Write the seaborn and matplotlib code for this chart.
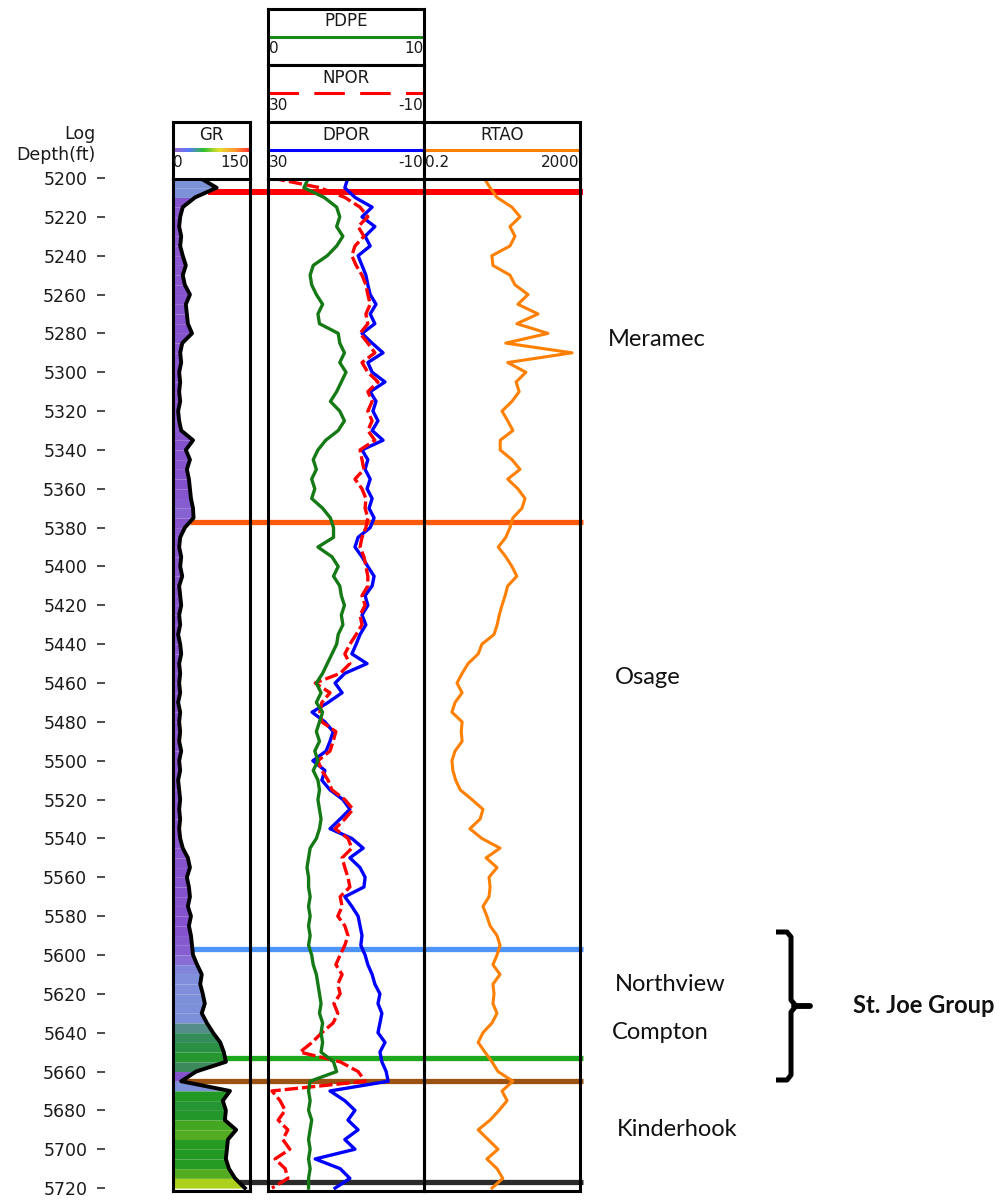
import numpy as np
import matplotlib
matplotlib.use("Agg")
import matplotlib.pyplot as plt
import seaborn as sns
from matplotlib import transforms
from matplotlib.colors import LinearSegmentedColormap, Normalize
from matplotlib.lines import Line2D

# ---- log samples, every 5 ft from 5200 to 5720 ft ----
depth = np.arange(5200, 5721, 5)

# gamma ray, API (0-150)
gr = [53, 85, 43, 19, 14, 12, 16, 14, 19, 25,
      19, 23, 33, 25, 27, 29, 37, 18, 14, 16,
      12, 14, 12, 14, 10, 12, 16, 39, 25, 33,
      27, 31, 33, 35, 39, 40, 23, 14, 12, 16,
      14, 18, 12, 14, 16, 12, 14, 10, 14, 16,
      12, 14, 12, 14, 10, 14, 12, 14, 12, 16,
      12, 14, 10, 12, 14, 12, 14, 12, 14, 19,
      29, 33, 27, 31, 33, 29, 35, 31, 35, 37,
      39, 47, 56, 53, 58, 62, 56, 66, 78, 92,
      99, 103, 45, 16, 111, 97, 103, 101, 123, 107,
      105, 103, 109, 121, 140]

# photoelectric factor, b/e (0-10)
pdpe = [2.6, 2.3, 3.6, 4.4, 4.6, 4.4, 4.8, 4.4, 3.8, 2.9,
        2.7, 2.8, 3.1, 3.5, 3.2, 3.3, 4.5, 4.6, 4.9, 4.6,
        5.0, 4.7, 4.4, 4.0, 4.6, 4.9, 4.5, 3.7, 3.2, 2.9,
        3.1, 2.8, 3.0, 2.8, 3.5, 4.0, 4.2, 4.2, 3.2, 4.1,
        4.5, 4.2, 4.6, 4.7, 4.9, 4.7, 4.8, 4.5, 4.4, 4.1,
        3.8, 3.5, 3.1, 3.4, 3.1, 3.5, 3.3, 3.1, 3.3, 3.0,
        3.2, 2.9, 3.2, 3.3, 3.2, 3.3, 3.4, 3.3, 3.1, 2.7,
        2.6, 2.5, 2.6, 2.6, 2.7, 2.6, 2.7, 2.6, 2.7, 2.6,
        2.8, 2.9, 3.1, 3.2, 3.3, 3.4, 3.3, 3.5, 3.4, 3.5,
        3.4, 4.2, 4.4, 2.7, 2.6, 2.7, 2.6, 2.8, 2.7, 2.6,
        2.7, 2.6, 2.7, 2.6, 2.6]

# neutron porosity, % (30 to -10)
npor = [29.0, 16.7, 10.3, 6.4, 4.4, 6.9, 5.4, 7.7, 8.5, 7.4,
        5.9, 4.9, 4.4, 3.8, 4.9, 4.4, 6.4, 4.4, 2.6, 5.9,
        4.4, 1.8, 4.4, 3.3, 4.4, 3.3, 4.4, 2.6, 6.4, 5.9,
        5.4, 7.7, 5.9, 4.9, 5.1, 4.4, 4.9, 5.9, 6.4, 5.4,
        4.9, 4.4, 4.4, 5.9, 5.1, 6.4, 5.9, 7.4, 9.0, 10.3,
        9.0, 11.5, 17.9, 14.1, 16.2, 16.7, 16.2, 12.6, 13.3, 14.1,
        17.2, 16.2, 14.6, 13.6, 10.3, 8.2, 10.3, 12.8, 9.5, 8.5,
        11.0, 10.3, 9.5, 9.0, 11.5, 11.0, 12.1, 10.3, 9.5, 10.3,
        11.5, 12.6, 11.0, 12.1, 11.5, 13.1, 12.1, 13.3, 16.2, 18.7,
        21.8, 11.5, 6.9, 5.1, 29.0, 26.9, 25.6, 27.4, 24.9, 26.2,
        24.4, 28.2, 25.6, 24.9, 29.0]

# density porosity, % (30 to -10)
dpor = [9.5, 10.3, 7.7, 3.3, 5.9, 2.6, 5.1, 3.8, 6.9, 5.9,
        4.9, 4.4, 3.8, 2.3, 3.8, 2.6, 5.9, 3.3, 0.5, 4.4,
        3.3, 0.0, 3.8, 2.3, 3.1, 1.8, 3.3, 0.5, 5.9, 4.4,
        5.1, 3.8, 4.6, 3.3, 4.1, 2.8, 3.8, 6.9, 7.7, 5.9,
        4.4, 2.8, 3.3, 5.1, 4.4, 5.9, 4.9, 6.4, 7.4, 8.5,
        4.6, 10.3, 12.8, 11.0, 14.6, 18.7, 15.4, 13.3, 14.1, 15.1,
        18.5, 15.4, 16.2, 14.1, 10.8, 9.0, 11.5, 14.1, 8.5, 5.6,
        9.0, 6.4, 5.1, 5.4, 10.3, 8.5, 6.9, 6.4, 5.9, 6.2,
        5.1, 4.4, 3.3, 2.6, 1.3, 1.8, 0.8, 1.3, 1.8, 0.0,
        1.3, 0.8, -0.3, -0.8, 14.1, 10.3, 7.7, 9.5, 6.9, 10.3,
        7.7, 17.9, 11.5, 9.0, 12.8]

# deep resistivity, ohm-m (0.2-2000, log)
rtao = [6.9, 9.9, 14.9, 36, 58, 32, 43, 32, 11, 11.7,
        32, 43, 93, 51, 168, 48, 302, 25, 1250, 28,
        82, 46, 55, 36, 20, 28, 38, 18, 18, 36,
        58, 28, 51, 78, 65, 38, 32, 25, 16, 25,
        36, 48, 28, 24, 20, 17, 15, 12.5, 6.1, 4.9,
        2.7, 1.9, 1.4, 1.9, 1.25, 1.04, 1.9, 1.8, 1.9, 1.25,
        1.04, 1.1, 1.3, 1.7, 3.4, 6.5, 5.5, 3.0, 6.1, 17.8,
        7.8, 14.9, 9.3, 9.9, 9.3, 6.5, 8.2, 9.9, 14.9, 17.8,
        14.9, 11.7, 17.8, 11.7, 12.5, 11.7, 14.9, 11.1, 6.5, 4.9,
        7.3, 11.1, 15.8, 38, 20, 27, 16.8, 9.9, 4.9, 8.8,
        15.8, 8.2, 14.9, 21, 11.1]

# formation tops (ft) and their marker colours
tops_depth = [5207, 5377, 5597, 5653, 5665, 5717]
tops_color = ['#ff0000', '#ff5a0a', '#4d94ff', '#1ea81e', '#9b5212', '#2b2b2b']

formations = ['Meramec', 'Osage', 'Northview', 'Compton', 'Kinderhook']
group_name = 'St. Joe Group'
depth_ticks = list(range(5200, 5721, 20))

# ---- figure layout (pixel based) ----
W, H = 1003, 1203
fig = plt.figure(figsize=(W / 100, H / 100), dpi=100)
plt.rcParams['font.family'] = ['DejaVu Sans']


def rect(x0, y0, x1, y1):
    return [x0 / W, 1 - y1 / H, (x1 - x0) / W, (y1 - y0) / H]


TOP, BOT = 178, 1191
DMIN, DMAX = 5200, 5721.5
FRAME = 2.2


def clean(ax):
    ax.tick_params(which='both', bottom=False, top=False, left=False, right=False,
                   labelbottom=False, labeltop=False, labelleft=False, labelright=False)
    ax.set_xlabel('')
    ax.set_ylabel('')


def track(x0, x1):
    ax = fig.add_axes(rect(x0, TOP, x1, BOT))
    ax.set_facecolor('none')
    for s in ax.spines.values():
        s.set_linewidth(FRAME)
        s.set_color('black')
    return ax


# ---- gamma ray track with value-coloured fill ----
fill_cmap = LinearSegmentedColormap.from_list(
    'grfill', [(0.0, '#8f5bd2'), (0.22, '#8452cc'), (0.3, '#8a72d8'),
               (0.36, '#7f8fdc'), (0.46, '#7b92d6'), (0.49, '#3d8a5c'),
               (0.6, '#2e8b57'), (0.7, '#229a22'), (0.78, '#5aae20'),
               (0.88, '#b5d41a'), (1.0, '#e0e81a')])
norm = Normalize(0, 150)

ax_gr = track(173, 250)
for i in range(len(depth) - 1):
    g0, g1 = gr[i], gr[i + 1]
    ax_gr.fill_betweenx([depth[i], depth[i + 1]], 0, [g0, g1],
                        color=fill_cmap(norm((g0 + g1) / 2)), lw=0)
sns.lineplot(x=gr, y=depth, sort=False, estimator=None, color='black', lw=2.8, ax=ax_gr)
ax_gr.set_xlim(0, 150)
ax_gr.set_ylim(DMAX, DMIN)
clean(ax_gr)

# ---- porosity / PE track ----
ax_por = track(268, 424)
sns.lineplot(x=dpor, y=depth, sort=False, estimator=None, color='#0000ff', lw=2.4, ax=ax_por)
sns.lineplot(x=npor, y=depth, sort=False, estimator=None, color='#ff0000', lw=2.4,
             ls=(0, (4, 1.2)), ax=ax_por)
ax_por.set_xlim(30, -10)
ax_por.set_ylim(DMAX, DMIN)

ax_pe = ax_por.twiny()
for s in ax_pe.spines.values():
    s.set_visible(False)
sns.lineplot(x=pdpe, y=depth, sort=False, estimator=None, color='#157a15', lw=2.4, ax=ax_pe)
ax_pe.set_xlim(0, 10)
ax_pe.set_ylim(DMAX, DMIN)
clean(ax_pe)
clean(ax_por)

# ---- resistivity track ----
ax_rt = track(424, 580)
ax_rt.set_xscale('log')
sns.lineplot(x=rtao, y=depth, sort=False, estimator=None, color='#ff8000', lw=2.2, ax=ax_rt)
ax_rt.set_xlim(0.2, 2000)
ax_rt.set_ylim(DMAX, DMIN)
clean(ax_rt)

# ---- depth scale ----
ax_dep = fig.add_axes(rect(105, TOP, 106, BOT))
ax_dep.patch.set_visible(False)
for s in ax_dep.spines.values():
    s.set_visible(False)
ax_dep.set_ylim(DMAX, DMIN)
ax_dep.set_xticks([])
ax_dep.set_yticks(depth_ticks)
ax_dep.tick_params(axis='y', length=5.8, width=1.2, color='#303030', pad=7,
                   labelsize=12.5, labelcolor='#1a1a1a')
fig.text(96 / W, 1 - 134 / H, 'Log', ha='right', va='center', fontsize=12.5, color='#1a1a1a')
fig.text(96 / W, 1 - 155 / H, 'Depth(ft)', ha='right', va='center', fontsize=12.5, color='#1a1a1a')

# ---- track headers ----
rainbow = LinearSegmentedColormap.from_list(
    'hdr', ['#a064c8', '#5a78ff', '#30c030', '#e8e030', '#ff9a30', '#ff3030'])


def header(box, name, left, right, color=None, ls='-', gradient=False):
    hx = fig.add_axes(rect(*box))
    hx.set_xlim(0, 1)
    hx.set_ylim(0, 1)
    hx.set_xticks([])
    hx.set_yticks([])
    for s in hx.spines.values():
        s.set_linewidth(FRAME)
    hx.text(0.5, 0.78, name, ha='center', va='center', fontsize=12, color='#1a1a1a')
    if gradient:
        hx.imshow(np.linspace(0, 1, 256)[None, :], cmap=rainbow, aspect='auto',
                  extent=(0, 1, 0.47, 0.54), zorder=2)
        hx.set_xlim(0, 1)
        hx.set_ylim(0, 1)
    else:
        hx.plot([0, 1], [0.505, 0.505], color=color, lw=2.2, ls=ls)
    hx.text(0.005, 0.29, left, ha='left', va='center', fontsize=11, color='#1a1a1a')
    hx.text(0.995, 0.29, right, ha='right', va='center', fontsize=11, color='#1a1a1a')
    return hx


header((173, 122, 250, 179), 'GR', '0', '150', gradient=True)
header((268, 9, 424, 65), 'PDPE', '0', '10', color='#1a8a1a')
header((268, 65, 424, 122), 'NPOR', '30', '-10', color='#ff0000', ls=(0, (10, 5)))
header((268, 122, 424, 179), 'DPOR', '30', '-10', color='#0000ff')
header((424, 122, 580, 179), 'RTAO', '0.2', '2000', color='#ff8000')

# ---- formation top markers, from the GR curve across all tracks ----
to_fig = ax_gr.transData + fig.transFigure.inverted()
blend = transforms.blended_transform_factory(fig.transFigure, ax_gr.transData)
for d, c in zip(tops_depth, tops_color):
    g = np.interp(d, depth, gr)
    x0 = to_fig.transform((g, d))[0]
    lw = 4.3 if c == '#ff0000' else 3.8
    fig.add_artist(Line2D([x0, 583 / W], [d, d], transform=blend, color=c, lw=lw,
                          zorder=-1, solid_capstyle='butt'))

# ---- formation names ----
label_x = [608, 615, 615, 612, 617]
label_d = [5283, 5457, 5615, 5640, 5690]
for name, x, d in zip(formations, label_x, label_d):
    ax_gr.text(x / W, d, name, transform=blend, ha='left', va='center',
               fontsize=17, family=['Lato', 'DejaVu Sans'], color='#111111', clip_on=False)
ax_gr.text(853 / W, 5626, group_name, transform=blend, ha='left', va='center',
           fontsize=17, fontweight='bold', family=['Lato', 'DejaVu Sans'],
           color='#111111', clip_on=False)

# bracket grouping Northview and Compton
bx = [776, 787, 791, 791, 796, 791, 791, 787, 776]
by = [932, 932, 937, 1000, 1006, 1012, 1075, 1080, 1080]
fig.add_artist(Line2D([x / W for x in bx], [1 - y / H for y in by], transform=fig.transFigure,
                      color='black', lw=3.6, solid_joinstyle='round', solid_capstyle='butt'))
fig.add_artist(Line2D([794 / W, 810 / W], [1 - 1006 / H, 1 - 1006 / H], transform=fig.transFigure,
                      color='black', lw=4.2, solid_capstyle='round'))

fig.savefig('out.png', dpi=100, facecolor='white')
